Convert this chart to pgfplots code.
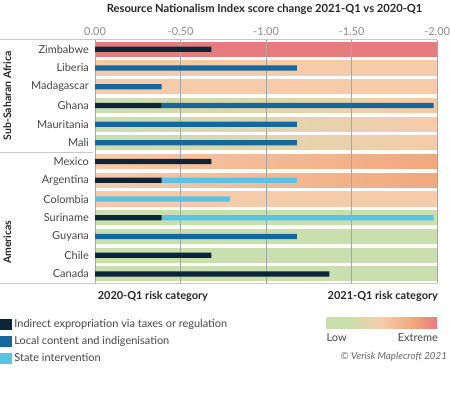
\documentclass[border=0pt]{standalone}
\usepackage{fontspec}
\setmainfont{Lato}
\usepackage{pgfplots}
\pgfplotsset{compat=1.18}
\definecolor{cLow}{RGB}{201,223,174}
\definecolor{cMed}{RGB}{246,203,170}
\definecolor{cHigh}{RGB}{241,168,125}
\definecolor{cExt}{RGB}{229,125,126}
\definecolor{cDark}{RGB}{12,37,56}
\definecolor{cMid}{RGB}{22,103,155}
\definecolor{cLight}{RGB}{90,195,228}
\definecolor{cLab}{RGB}{70,70,70}
\definecolor{cTick}{RGB}{140,140,140}
\definecolor{cLine}{RGB}{200,200,200}
\pgfdeclarehorizontalshading{riskshade}{100bp}{color(0bp)=(cLow); color(25bp)=(cLow); color(35bp)=(cLow); color(50bp)=(cMed); color(64bp)=(cHigh); color(75bp)=(cExt); color(100bp)=(cExt)}
\newcommand{\band}[3]{\addplot[draw=none, left color=#2, right color=#3, forget plot] coordinates {(0,#1-0.38) (-2,#1-0.38) (-2,#1+0.38) (0,#1+0.38)} -- cycle;}
\begin{document}
\begin{tikzpicture}[x=1pt,y=1pt]
\path (0pt,0pt) rectangle (450pt,397pt);
\begin{axis}[
 at={(95pt,113pt)}, anchor=south west,
 scale only axis, width=343pt, height=244pt,
 xmin=-2, xmax=0, x dir=reverse,
 ymin=-0.5, ymax=12.5, y dir=reverse,
 axis line style={draw=none},
 xtick={0,-0.5,-1,-1.5,-2}, xticklabels={0.00,-0.50,-1.00,-1.50,-2.00},
 xticklabel pos=upper,
 xmajorgrids, grid style={draw=black!35, line width=0.5pt},
 major tick length=0pt,
 ytick={0,1,2,3,4,5,6,7,8,9,10,11,12},
 yticklabels={Zimbabwe,Liberia,Madagascar,Ghana,Mauritania,Mali,Mexico,Argentina,Colombia,Suriname,Guyana,Chile,Canada},
 yticklabel style={font=\fontsize{11}{12}\selectfont, text=cLab, anchor=east, inner sep=0pt, xshift=-6pt},
 xticklabel style={font=\fontsize{11}{12}\selectfont, text=cTick, inner sep=0pt, yshift=4pt},
 axis on top,
]
\band{0}{cExt}{cExt}
\band{1}{cMed}{cMed}
\band{2}{cMed}{cMed}
\band{3}{cLow}{cMed}
\band{4}{cLow}{cMed}
\band{5}{cLow}{cMed}
\band{6}{cMed}{cHigh}
\band{7}{cMed}{cHigh}
\band{8}{cMed}{cMed}
\band{9}{cLow}{cLow}
\band{10}{cLow}{cLow}
\band{11}{cLow}{cLow}
\band{12}{cLow}{cLow}
\end{axis}
\begin{axis}[
 at={(95pt,113pt)}, anchor=south west,
 scale only axis, width=343pt, height=244pt,
 xmin=-2, xmax=0, x dir=reverse,
 ymin=-0.5, ymax=12.5, y dir=reverse,
 hide axis,
 xbar stacked, bar width=0.28,
 legend style={at={(-0.277,-0.14)}, anchor=north west, draw=none, fill=none, inner sep=0pt, row sep=3.5pt,
   font=\fontsize{11}{12}\selectfont, text=cLab, cells={anchor=west}},
 legend image code/.code={\fill[#1] (0pt,-5.5pt) rectangle (12pt,5.5pt);},
]
\addplot[fill=cDark, draw=none] coordinates {(-0.68,0) (0,1) (0,2) (-0.39,3) (0,4) (0,5) (-0.68,6) (-0.39,7) (0,8) (-0.39,9) (0,10) (-0.68,11) (-1.37,12)};
\addplot[fill=cMid, draw=none] coordinates {(0,0) (-1.18,1) (-0.39,2) (-1.59,3) (-1.18,4) (-1.18,5) (0,6) (0,7) (0,8) (0,9) (-1.18,10) (0,11) (0,12)};
\addplot[fill=cLight, draw=none] coordinates {(0,0) (0,1) (0,2) (0,3) (0,4) (0,5) (0,6) (-0.79,7) (-0.79,8) (-1.59,9) (0,10) (0,11) (0,12)};
\legend{Indirect expropriation via taxes or regulation, Local content and indigenisation, State intervention}
\end{axis}
% frame lines
\draw[cLine, line width=0.6pt] (0pt,357.5pt) -- (438pt,357.5pt);
\draw[cLine, line width=0.6pt] (0pt,244pt) -- (93pt,244pt);
\draw[cLine, line width=0.6pt] (0pt,113pt) -- (438pt,113pt);
% group labels
\node[rotate=90, font=\bfseries\fontsize{10.5}{12}\selectfont, text=black!85] at (7pt,301pt) {Sub-Saharan Africa};
\node[rotate=90, font=\bfseries\fontsize{10.5}{12}\selectfont, text=black!85] at (7pt,154pt) {Americas};
% title
\node[font=\bfseries\fontsize{11.2}{13}\selectfont, text=black!85] at (265pt,388pt) {Resource Nationalism Index score change 2021-Q1 vs 2020-Q1};
% risk category labels
\node[font=\bfseries\fontsize{11}{12}\selectfont, text=black!85] at (153pt,100pt) {2020-Q1 risk category};
\node[font=\bfseries\fontsize{11}{12}\selectfont, text=black!85, anchor=east, inner sep=0pt] at (439pt,100pt) {2021-Q1 risk category};
% gradient legend
\shade[shading=riskshade] (327pt,68pt) rectangle (438pt,79pt);
\node[font=\fontsize{11}{12}\selectfont, text=cLab, anchor=west, inner sep=0pt] at (327pt,58pt) {Low};
\node[font=\fontsize{11}{12}\selectfont, text=cLab, anchor=east, inner sep=0pt] at (439pt,58pt) {Extreme};
\node[font=\itshape\fontsize{9.8}{11}\selectfont, text=black!60, anchor=east, inner sep=0pt] at (448pt,39pt) {© Verisk Maplecroft 2021};
\end{tikzpicture}
\end{document}
